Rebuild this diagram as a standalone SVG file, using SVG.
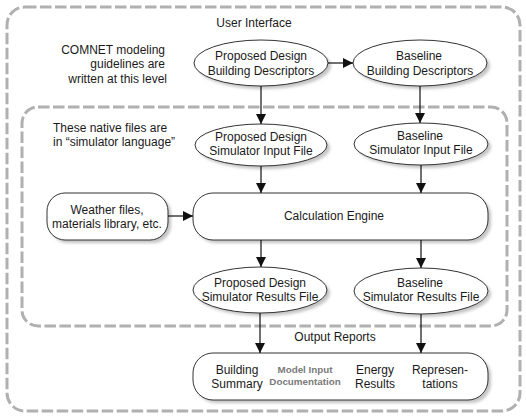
<svg xmlns="http://www.w3.org/2000/svg" width="526" height="420" viewBox="0 0 526 420">
<style>
text{font-family:"Liberation Sans",Arial,sans-serif;font-size:12px;fill:#1a1a1a}
.c{text-anchor:middle}
.r{text-anchor:end}
.dash{fill:none;stroke:#b0b0b0;stroke-width:3;stroke-dasharray:11.5 3.5}
.node{fill:#fff;stroke:#333;stroke-width:1}
.sh{fill:#c4c4c4;filter:url(#blur)}
.edge{stroke:#111;stroke-width:1.2;fill:none;marker-end:url(#ah)}
.doc{font-size:9.8px;font-weight:bold;fill:#7a7a7a}
</style>
<defs>
<filter id="blur" x="-20%" y="-20%" width="140%" height="140%"><feGaussianBlur stdDeviation="1.5"/></filter>
<marker id="ah" markerWidth="10" markerHeight="10" refX="10" refY="5" orient="auto" markerUnits="userSpaceOnUse"><path d="M0,0 L10,5 L0,10 Z" fill="#111"/></marker>
</defs>
<rect width="526" height="420" fill="#fff"/>
<g id="boundaries">
<rect class="dash" x="7" y="7" width="513" height="404" rx="18"/>
<rect class="dash" x="22" y="107" width="485" height="219" rx="16"/>
</g>
<g id="labels">
<text class="c" x="254" y="27">User Interface</text>
<text class="r" x="165" y="54">COMNET modeling</text>
<text class="r" x="165" y="68">guidelines are</text>
<text class="r" x="167" y="83">written at this level</text>
<text x="53" y="132">These native files are</text>
<text x="53" y="146">in “simulator language”</text>
<text class="c" x="335" y="341">Output Reports</text>
</g>
<g id="n-pbd">
<ellipse class="sh" cx="264" cy="66" rx="67" ry="23"/>
<ellipse class="node" cx="261" cy="63" rx="67" ry="23"/>
<text class="c" x="261" y="60">Proposed Design</text>
<text class="c" x="261" y="75">Building Descriptors</text>
</g>
<g id="n-bbd">
<ellipse class="sh" cx="423" cy="66" rx="67" ry="23"/>
<ellipse class="node" cx="420" cy="63" rx="67" ry="23"/>
<text class="c" x="419" y="60">Baseline</text>
<text class="c" x="420" y="75">Building Descriptors</text>
</g>
<g id="n-psi">
<ellipse class="sh" cx="264" cy="148" rx="66" ry="21"/>
<ellipse class="node" cx="261" cy="145" rx="66" ry="21"/>
<text class="c" x="261" y="141">Proposed Design</text>
<text class="c" x="261" y="155">Simulator Input File</text>
</g>
<g id="n-bsi">
<ellipse class="sh" cx="424" cy="147" rx="67" ry="21"/>
<ellipse class="node" cx="421" cy="144" rx="67" ry="21"/>
<text class="c" x="420" y="140">Baseline</text>
<text class="c" x="421" y="154">Simulator Input File</text>
</g>
<g id="n-weather">
<rect class="sh" x="50" y="196" width="121" height="47" rx="18"/>
<rect class="node" x="47" y="193" width="121" height="47" rx="18"/>
<text class="c" x="107" y="214">Weather files,</text>
<text class="c" x="107" y="228">materials library, etc.</text>
</g>
<g id="n-engine">
<rect class="sh" x="196" y="196" width="295" height="47" rx="20"/>
<rect class="node" x="193" y="193" width="295" height="47" rx="20"/>
<text class="c" x="334" y="220">Calculation Engine</text>
</g>
<g id="n-psr">
<ellipse class="sh" cx="263" cy="293" rx="67" ry="23"/>
<ellipse class="node" cx="260" cy="290" rx="67" ry="23"/>
<text class="c" x="260" y="287">Proposed Design</text>
<text class="c" x="260" y="301">Simulator Results File</text>
</g>
<g id="n-bsr">
<ellipse class="sh" cx="424" cy="294" rx="67" ry="23"/>
<ellipse class="node" cx="421" cy="291" rx="67" ry="23"/>
<text class="c" x="420" y="287">Baseline</text>
<text class="c" x="421" y="301">Simulator Results File</text>
</g>
<g id="n-output">
<rect class="sh" x="196" y="356" width="295" height="47" rx="20"/>
<rect class="node" x="193" y="353" width="295" height="47" rx="20"/>
<text class="c" x="237" y="374">Building</text>
<text class="c" x="237" y="388">Summary</text>
<text class="c doc" x="305" y="373">Model Input</text>
<text class="c doc" x="305" y="385">Documentation</text>
<text class="c" x="375" y="374">Energy</text>
<text class="c" x="375" y="388">Results</text>
<text class="c" x="440" y="374">Represen-</text>
<text class="c" x="440" y="388">tations</text>
</g>
<g id="connectors">
<line class="edge" x1="328" y1="63" x2="353" y2="63"/>
<line class="edge" x1="261" y1="86" x2="261" y2="124"/>
<line class="edge" x1="420" y1="86" x2="420" y2="123"/>
<line class="edge" x1="261" y1="166" x2="261" y2="193"/>
<line class="edge" x1="421" y1="165" x2="421" y2="193"/>
<line class="edge" x1="168" y1="216" x2="193" y2="216"/>
<line class="edge" x1="261" y1="240" x2="261" y2="267"/>
<line class="edge" x1="421" y1="240" x2="421" y2="268"/>
<line class="edge" x1="260" y1="313" x2="260" y2="353"/>
<line class="edge" x1="421" y1="314" x2="421" y2="353"/>
</g>
</svg>
